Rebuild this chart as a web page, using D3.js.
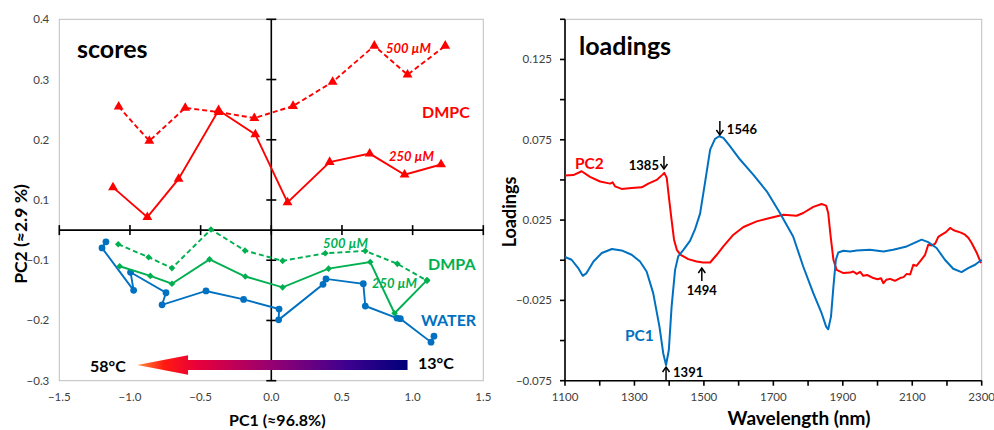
<!DOCTYPE html>
<html>
<head>
<meta charset="utf-8">
<script src="https://cdn.jsdelivr.net/npm/d3@7"></script>
<style>
  html, body { margin: 0; padding: 0; background: #fff; }
  svg { display: block; font-family: Lato, "Open Sans", sans-serif; }
</style>
</head>
<body>
<svg id="chart" width="994" height="430"></svg>
<script>
// ---------------- DATA ----------------
// Scores panel (PC1, PC2)
const waterPC1 = [-1.170, -1.198, -0.974, -0.996, -0.745, -0.773, -0.462, -0.196, 0.055, 0.052, 0.366, 0.387, 0.651, 0.665, 0.889, 0.913, 1.130, 1.151];
const waterPC2 = [-0.039, -0.059, -0.150, -0.120, -0.154, -0.174, -0.151, -0.165, -0.181, -0.199, -0.140, -0.131, -0.139, -0.176, -0.196, -0.197, -0.236, -0.226];

const dmpa250PC1 = [-1.073, -0.856, -0.703, -0.437, -0.184, 0.080, 0.405, 0.700, 0.872, 1.102];
const dmpa250PC2 = [-0.110, -0.126, -0.139, -0.097, -0.127, -0.145, -0.114, -0.103, -0.188, -0.133];

const dmpa500PC1 = [-1.083, -0.868, -0.703, -0.427, -0.186, 0.080, 0.382, 0.665, 0.892, 1.102];
const dmpa500PC2 = [-0.047, -0.090, -0.113, 0.002, -0.068, -0.101, -0.077, -0.069, -0.106, -0.134];

const dmpc250PC1 = [-1.120, -0.877, -0.656, -0.373, -0.113, 0.115, 0.413, 0.696, 0.943, 1.201];
const dmpc250PC2 = [0.121, 0.043, 0.135, 0.249, 0.209, 0.092, 0.163, 0.177, 0.142, 0.159];

const dmpc500PC1 = [-1.080, -0.863, -0.609, -0.373, -0.120, 0.154, 0.434, 0.729, 0.964, 1.231];
const dmpc500PC2 = [0.255, 0.198, 0.253, 0.246, 0.236, 0.256, 0.296, 0.356, 0.308, 0.356];

const scoresXTicks = [-1.5, -1.0, -0.5, 0.0, 0.5, 1.0, 1.5];
const scoresYTicks = [-0.3, -0.2, -0.1, 0.1, 0.2, 0.3, 0.4];

// Loadings panel
const pc1Wavelength = [1100,1119,1138,1151,1162,1182,1206,1235,1263,1292,1316,1335,1354,1372,1383,1391,1399,1407,1417,1426,1441,1460,1474,1489,1503,1518,1532,1544,1556,1575,1604,1642,1681,1719,1757,1786,1815,1839,1852,1858,1866,1873,1880,1887,1902,1921,1940,1978,2017,2045,2084,2108,2127,2146,2170,2194,2218,2242,2261,2281,2300];
const pc1Loading = [0.002,0.0003,-0.0049,-0.0097,-0.008,-0.0008,0.0045,0.007,0.0061,0.0034,-0.0008,-0.007,-0.0205,-0.0413,-0.058,-0.0652,-0.0559,-0.0289,-0.006,0.0024,0.0065,0.012,0.019,0.029,0.048,0.0689,0.0756,0.0772,0.0762,0.071,0.0627,0.0533,0.0429,0.0294,0.0148,-0.0039,-0.0205,-0.033,-0.0413,-0.043,-0.0351,-0.0164,0.0003,0.0048,0.0059,0.0055,0.0061,0.0065,0.0055,0.0065,0.0086,0.011,0.0128,0.0113,0.0076,0.0003,-0.0053,-0.0074,-0.0049,-0.0028,0.0003];

const pc2Wavelength = [1100,1124,1148,1172,1201,1230,1237,1244,1263,1292,1321,1340,1364,1381,1386,1393,1400,1407,1414,1422,1433,1455,1479,1498,1518,1537,1556,1585,1614,1652,1690,1729,1767,1786,1815,1839,1852,1858,1865,1873,1882,1902,1921,1930,1940,1950,1959,1970,1988,2000,2010,2017,2025,2036,2050,2065,2075,2084,2094,2103,2112,2122,2137,2146,2156,2166,2175,2185,2197,2209,2218,2228,2240,2252,2262,2271,2286,2298];
const pc2Loading = [0.0527,0.053,0.0554,0.0519,0.049,0.0477,0.0485,0.046,0.0444,0.045,0.0454,0.0477,0.050,0.0533,0.0544,0.0513,0.0377,0.025,0.0128,0.0065,0.0034,0.0007,-0.0008,-0.0014,-0.0014,0.0034,0.0086,0.0159,0.0207,0.0242,0.0263,0.0283,0.0277,0.0294,0.0332,0.035,0.034,0.0294,0.0148,0.0003,-0.006,-0.008,-0.0077,-0.007,-0.0085,-0.0072,-0.0097,-0.0092,-0.0111,-0.0118,-0.0112,-0.0143,-0.0122,-0.0116,-0.0128,-0.0111,-0.0105,-0.0085,-0.0089,-0.0028,-0.0035,-0.0008,0.0034,0.0096,0.0092,0.0103,0.0145,0.0159,0.0175,0.0201,0.0188,0.018,0.0172,0.0159,0.0138,0.0107,0.0045,-0.0018];

const loadXTicks = [1100, 1300, 1500, 1700, 1900, 2100, 2300];
const loadXMinor = [1100,1200,1300,1400,1500,1600,1700,1800,1900,2000,2100,2200,2300];
const loadYTicks = [-0.075, -0.025, 0.025, 0.075, 0.125];
const loadYMinor = [-0.075,-0.05,-0.025,0,0.025,0.05,0.075,0.1,0.125,0.15];

const peakLabels = [
  {wl: 1385, text: "1385", dir: "down"},
  {wl: 1546, text: "1546", dir: "down"},
  {wl: 1391, text: "1391", dir: "up"},
  {wl: 1494, text: "1494", dir: "up"}
];

// ---------------- COLOURS ----------------
const RED = "#ff0000", GREEN = "#00b050", BLUE = "#0070c0";

const svg = d3.select("#chart");

// ================= LEFT: SCORES =================
const L = {left: 59.3, right: 483.3, top: 19.3, bottom: 380.7};
const step = (L.bottom - L.top) / 6;
const xs = d3.scaleLinear().domain([-1.5, 1.5]).range([L.left, L.right]);
// broken y-axis: the 0.1 .. -0.1 span takes one tick interval
const ys = d3.scaleLinear()
  .domain([-0.3, -0.1, 0.1, 0.4])
  .range([L.bottom, L.bottom - 2 * step, L.bottom - 3 * step, L.top]);

const gL = svg.append("g");
gL.append("rect").attr("x", L.left).attr("y", L.top)
  .attr("width", L.right - L.left).attr("height", L.bottom - L.top)
  .attr("fill", "none").attr("stroke", "#bfbfbf").attr("stroke-width", 1);

// axes through origin
const x0 = xs(0), y0 = ys(0);
gL.append("line").attr("x1", L.left).attr("x2", L.right).attr("y1", y0).attr("y2", y0)
  .attr("stroke", "#000").attr("stroke-width", 1.6);
gL.append("line").attr("x1", x0).attr("x2", x0).attr("y1", L.top).attr("y2", L.bottom)
  .attr("stroke", "#000").attr("stroke-width", 1.6);
gL.selectAll(".xt").data(scoresXTicks).enter().append("line")
  .attr("x1", d => xs(d)).attr("x2", d => xs(d)).attr("y1", y0 - 5).attr("y2", y0 + 5)
  .attr("stroke", "#000").attr("stroke-width", 1.6);
gL.selectAll(".yt").data(scoresYTicks).enter().append("line")
  .attr("x1", x0 - 5).attr("x2", x0 + 5).attr("y1", d => ys(d)).attr("y2", d => ys(d))
  .attr("stroke", "#000").attr("stroke-width", 1.6);

// tick labels
gL.selectAll(".xl").data(scoresXTicks).enter().append("text")
  .attr("x", d => xs(d)).attr("y", L.bottom + 20).attr("text-anchor", "middle")
  .attr("font-size", 11.5).attr("fill", "#404040").text(d => d3.format(".1f")(d));
gL.selectAll(".yl").data(scoresYTicks).enter().append("text")
  .attr("x", L.left - 10).attr("y", d => ys(d) + 4).attr("text-anchor", "end")
  .attr("font-size", 11.5).attr("fill", "#404040").text(d => d3.format(".1f")(d));

// axis titles
gL.append("text").attr("x", xs(0) + 6).attr("y", 426).attr("text-anchor", "middle")
  .attr("font-size", 16).attr("font-weight", 700).text("PC1 (≈96.8%)");
gL.append("text").attr("transform", `translate(27,234) rotate(-90)`)
  .attr("text-anchor", "middle").attr("font-size", 17.5).attr("font-weight", 700).text("PC2 (≈2.9 %)");

gL.append("text").attr("x", 77).attr("y", 58).attr("font-size", 25).attr("font-weight", 700).text("scores");

// temperature arrow
const defs = svg.append("defs");
const arrowX = [-0.948, -0.589, 0.964];
const arrowY = -0.274;
const grad = defs.append("linearGradient").attr("id", "tempGrad")
  .attr("gradientUnits", "userSpaceOnUse")
  .attr("x1", xs(arrowX[0])).attr("x2", xs(arrowX[2])).attr("y1", 0).attr("y2", 0);
[[0, "#ff8a3a"], [0.1, "#ff1a10"], [0.22, "#e8003a"], [0.5, "#950072"], [0.78, "#3c0090"], [1, "#000078"]]
  .forEach(([o, c]) => grad.append("stop").attr("offset", o).attr("stop-color", c));
const ay = ys(arrowY);
gL.append("path")
  .attr("d", `M${xs(arrowX[0])},${ay} L${xs(arrowX[1])},${ay - 9.7} L${xs(arrowX[1])},${ay - 5} L${xs(arrowX[2])},${ay - 5} L${xs(arrowX[2])},${ay + 5} L${xs(arrowX[1])},${ay + 5} L${xs(arrowX[1])},${ay + 9.7} Z`)
  .attr("fill", "url(#tempGrad)");
gL.append("text").attr("x", 90).attr("y", 372).attr("font-size", 16).attr("font-weight", 700).text("58°C");
gL.append("text").attr("x", 418).attr("y", 369).attr("font-size", 16).attr("font-weight", 700).text("13°C");

// series
const lineS = d3.line().x(d => xs(d[0])).y(d => ys(d[1]));
function zip(a, b) { return a.map((v, i) => [v, b[i]]); }
const series = [
  {x: waterPC1, y: waterPC2, color: BLUE, dash: null, sym: "circle"},
  {x: dmpa250PC1, y: dmpa250PC2, color: GREEN, dash: null, sym: "diamond"},
  {x: dmpa500PC1, y: dmpa500PC2, color: GREEN, dash: "5,3", sym: "diamond"},
  {x: dmpc250PC1, y: dmpc250PC2, color: RED, dash: null, sym: "triangle"},
  {x: dmpc500PC1, y: dmpc500PC2, color: RED, dash: "5,3", sym: "triangle"}
];
const symGen = {
  circle: d3.symbol().type(d3.symbolCircle).size(36),
  diamond: d3.symbol().type(d3.symbolSquare).size(22),
  triangle: d3.symbol().type(d3.symbolTriangle).size(42)
};
series.forEach(s => {
  const pts = zip(s.x, s.y);
  gL.append("path").datum(pts).attr("d", lineS).attr("fill", "none")
    .attr("stroke", s.color).attr("stroke-width", 1.9)
    .attr("stroke-dasharray", s.dash);
  gL.selectAll(null).data(pts).enter().append("path")
    .attr("d", symGen[s.sym])
    .attr("transform", d => `translate(${xs(d[0])},${ys(d[1])})${s.sym === "diamond" ? " rotate(45)" : ""}`)
    .attr("fill", s.color);
});

// series labels
const lab = (x, y, t, c, size, italic) => gL.append("text").attr("x", x).attr("y", y)
  .attr("font-size", size).attr("font-weight", 700).attr("font-style", italic ? "italic" : "normal")
  .attr("fill", c).text(t);
lab(386, 53, "500 µM", RED, 13, true);
lab(422, 118, "DMPC", RED, 16, false);
lab(389, 161, "250 µM", RED, 13, true);
lab(323, 248, "500 µM", GREEN, 13, true);
lab(428, 270, "DMPA", GREEN, 16, false);
lab(372, 288, "250 µM", GREEN, 13, true);
lab(421, 326, "WATER", BLUE, 16, false);

// ================= RIGHT: LOADINGS =================
const R = {left: 565, right: 981.7, top: 19.3, bottom: 380.7};
const xl = d3.scaleLinear().domain([1100, 2300]).range([R.left, R.right]);
const yl = d3.scaleLinear().domain([-0.075, 0.15]).range([R.bottom, R.top]);

const gR = svg.append("g");
gR.append("rect").attr("x", R.left).attr("y", R.top)
  .attr("width", R.right - R.left).attr("height", R.bottom - R.top)
  .attr("fill", "none").attr("stroke", "#bfbfbf").attr("stroke-width", 1);
gR.append("line").attr("x1", R.left).attr("x2", R.right).attr("y1", R.bottom).attr("y2", R.bottom)
  .attr("stroke", "#000").attr("stroke-width", 1.6);
gR.append("line").attr("x1", R.left).attr("x2", R.left).attr("y1", R.top).attr("y2", R.bottom)
  .attr("stroke", "#000").attr("stroke-width", 1.6);
gR.selectAll(".xt").data(loadXMinor).enter().append("line")
  .attr("x1", d => xl(d)).attr("x2", d => xl(d)).attr("y1", R.bottom).attr("y2", R.bottom + 5)
  .attr("stroke", "#000").attr("stroke-width", 1.6);
gR.selectAll(".yt").data(loadYMinor).enter().append("line")
  .attr("x1", R.left - 5).attr("x2", R.left).attr("y1", d => yl(d)).attr("y2", d => yl(d))
  .attr("stroke", "#000").attr("stroke-width", 1.6);
gR.selectAll(".xl").data(loadXTicks).enter().append("text")
  .attr("x", d => xl(d)).attr("y", R.bottom + 20).attr("text-anchor", "middle")
  .attr("font-size", 11.5).attr("fill", "#404040").text(d => d);
gR.selectAll(".yl").data(loadYTicks).enter().append("text")
  .attr("x", R.left - 13).attr("y", d => yl(d) + 4).attr("text-anchor", "end")
  .attr("font-size", 11.5).attr("fill", "#404040").text(d => d3.format(".3f")(d));

gR.append("text").attr("x", 799).attr("y", 425).attr("text-anchor", "middle")
  .attr("font-size", 19).attr("font-weight", 700).text("Wavelength (nm)");
gR.append("text").attr("transform", `translate(516,212) rotate(-90)`)
  .attr("text-anchor", "middle").attr("font-size", 18).attr("font-weight", 700).text("Loadings");
gR.append("text").attr("x", 579).attr("y", 55).attr("font-size", 25).attr("font-weight", 700).text("loadings");

const lineL = d3.line().x(d => xl(d[0])).y(d => yl(d[1]));
gR.append("path").datum(zip(pc2Wavelength, pc2Loading)).attr("d", lineL)
  .attr("fill", "none").attr("stroke", RED).attr("stroke-width", 2).attr("stroke-linejoin", "round");
gR.append("path").datum(zip(pc1Wavelength, pc1Loading)).attr("d", lineL)
  .attr("fill", "none").attr("stroke", BLUE).attr("stroke-width", 2).attr("stroke-linejoin", "round");

gR.append("text").attr("x", 575).attr("y", 169).attr("font-size", 15.5).attr("font-weight", 700).attr("fill", RED).text("PC2");
gR.append("text").attr("x", 625).attr("y", 341).attr("font-size", 15.5).attr("font-weight", 700).attr("fill", BLUE).text("PC1");

// peak arrows
const arrowSpec = {
  1385: {y1: 156, y2: 169, tx: -5, ty: 170, anchor: "end"},
  1546: {y1: 121, y2: 135, tx: 7, ty: 134, anchor: "start"},
  1391: {y1: 381, y2: 367, tx: 7, ty: 377, anchor: "start"},
  1494: {y1: 281, y2: 268, tx: 0, ty: 295, anchor: "middle"}
};
peakLabels.forEach(p => {
  const s = arrowSpec[p.wl];
  const x = xl(p.wl);
  const dirSign = p.dir === "down" ? -1 : 1;
  gR.append("line").attr("x1", x).attr("x2", x).attr("y1", s.y1).attr("y2", s.y2)
    .attr("stroke", "#000").attr("stroke-width", 1.5);
  gR.append("path").attr("d", `M${x - 3.5},${s.y2 + dirSign * 5} L${x},${s.y2} L${x + 3.5},${s.y2 + dirSign * 5}`)
    .attr("fill", "none").attr("stroke", "#000").attr("stroke-width", 1.5);
  gR.append("text").attr("x", x + s.tx).attr("y", s.ty).attr("text-anchor", s.anchor)
    .attr("font-size", 13).attr("font-weight", 700).text(p.text);
});
</script>
</body>
</html>
